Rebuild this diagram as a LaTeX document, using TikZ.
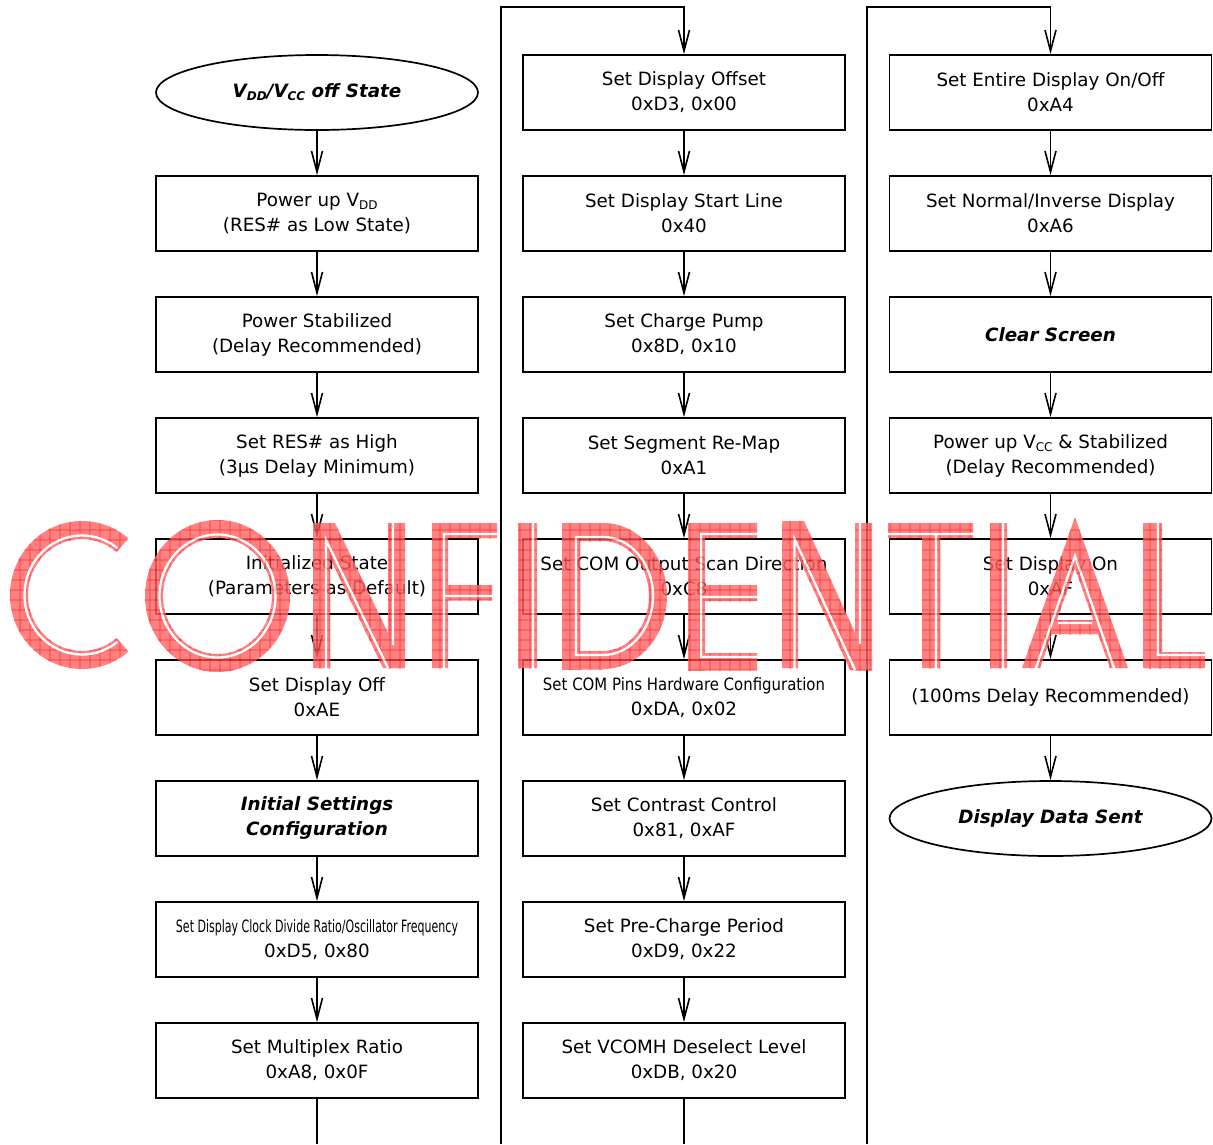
\documentclass[tikz,border=0pt]{standalone}
\usepackage{fontspec}
\usepackage{graphicx}
\setmainfont{DejaVu Sans}[ItalicFont={DejaVu Sans Oblique},BoldFont={DejaVu Sans Bold},BoldItalicFont={DejaVu Sans Bold Oblique}]
\usetikzlibrary{shapes.geometric,arrows.meta,patterns.meta,calc}
\newcommand\fsz{\fontsize{18.3}{25}\selectfont}
\newcommand\sub[1]{\raisebox{-3pt}{\fontsize{12}{12}\selectfont #1}}
\newcommand\cond[1]{\resizebox{282pt}{\height}{\fontsize{17}{17}\selectfont #1}}
\begin{document}
\begin{tikzpicture}[x=1pt,y=-1pt,
  box/.style={draw, line width=1.7pt, minimum width=322pt, minimum height=75pt, inner sep=0pt, align=center, font=\fsz},
  oval/.style={ellipse, draw, line width=1.7pt, minimum width=322pt, minimum height=75pt, inner sep=0pt, align=center, font=\fsz\bfseries\itshape},
  bi/.style={font=\fsz\bfseries\itshape},
  conn/.style={line width=1.7pt},
  arr/.style={conn, -{Straight Barb[length=21pt,width=11pt,line width=1.6pt]}},
  wm/.style={fill=red!60,
    postaction={pattern={Lines[distance=10pt,angle=0,line width=0.8pt]}, pattern color=red},
    postaction={pattern={Lines[distance=10pt,angle=90,line width=0.8pt]}, pattern color=red}},
  inl/.style={draw=white, line width=2.3pt}]
\fill[white] (0,0) rectangle (1213,1144);
\useasboundingbox (0,0) rectangle (1213,1144);

% column 1
\node[oval] (a1) at (317,92.5) {V\sub{DD}/V\sub{CC} off State};
\node[box] (a2) at (317,213.5) {Power up V\sub{DD}\\(RES\# as Low State)};
\node[box] (a3) at (317,334.5) {Power Stabilized\\(Delay Recommended)};
\node[box] (a4) at (317,455.5) {Set RES\# as High\\(3µs Delay Minimum)};
\node[box] (a5) at (317,576.5) {Initialized State\\(Parameters as Default)};
\node[box] (a6) at (317,697.5) {Set Display Off\\0xAE};
\node[box,bi] (a7) at (317,818.5) {Initial Settings\\Configuration};
\node[box] (a8) at (317,939.5) {\cond{Set Display Clock Divide Ratio/Oscillator Frequency}\\0xD5, 0x80};
\node[box] (a9) at (317,1060.5) {Set Multiplex Ratio\\0xA8, 0x0F};

% column 2
\node[box] (b1) at (684,92.5) {Set Display Offset\\0xD3, 0x00};
\node[box] (b2) at (684,213.5) {Set Display Start Line\\0x40};
\node[box] (b3) at (684,334.5) {Set Charge Pump\\0x8D, 0x10};
\node[box] (b4) at (684,455.5) {Set Segment Re-Map\\0xA1};
\node[box] (b5) at (684,576.5) {Set COM Output Scan Direction\\0xC8};
\node[box] (b6) at (684,697.5) {\cond{Set COM Pins Hardware Configuration}\\0xDA, 0x02};
\node[box] (b7) at (684,818.5) {Set Contrast Control\\0x81, 0xAF};
\node[box] (b8) at (684,939.5) {Set Pre-Charge Period\\0xD9, 0x22};
\node[box] (b9) at (684,1060.5) {Set VCOMH Deselect Level\\0xDB, 0x20};

% column 3
\node[box] (c1) at (1050.5,92.5) {Set Entire Display On/Off\\0xA4};
\node[box] (c2) at (1050.5,213.5) {Set Normal/Inverse Display\\0xA6};
\node[box,bi] (c3) at (1050.5,334.5) {Clear Screen};
\node[box] (c4) at (1050.5,455.5) {Power up V\sub{CC} \& Stabilized\\(Delay Recommended)};
\node[box] (c5) at (1050.5,576.5) {Set Display On\\0xAF};
\node[box] (c6) at (1050.5,697.5) {(100ms Delay Recommended)};
\node[oval] (c7) at (1050.5,818.5) {Display Data Sent};

% connectors
\foreach \p/\q in {a1/a2,a2/a3,a3/a4,a4/a5,a5/a6,a6/a7,a7/a8,a8/a9,
                   b1/b2,b2/b3,b3/b4,b4/b5,b5/b6,b6/b7,b7/b8,b8/b9,
                   c1/c2,c2/c3,c3/c4,c4/c5,c5/c6,c6/c7}
  \draw[arr] (\p) -- (\q);
\coordinate (e1) at (317,1144);
\coordinate (u2) at (501,1144);
\coordinate (t2) at (684,7);
\coordinate (e2) at (684,1144);
\coordinate (u3) at (867,1144);
\coordinate (t3) at (1050.5,7);
\draw[conn] (a9) -- (e1);
\draw[conn] (b9) -- (e2);
\draw[arr] (u2) |- (t2) -- (b1);
\draw[arr] (u3) |- (t3) -- (c1);

% watermark
\begin{scope}[transparency group, opacity=0.82]
  % C
  \fill[wm] (82,595) ++(50:72 and 74) arc[start angle=50,end angle=310,x radius=72,y radius=74]
     -- ($(82,595)+(310:54 and 56)$) arc[start angle=310,end angle=50,x radius=54,y radius=56] -- cycle;
  % O
  \fill[wm] (290,596) arc[start angle=0,end angle=360,x radius=72.5,y radius=76]
     -- (272,596) arc[start angle=360,end angle=0,x radius=54.5,y radius=58] -- cycle;
  % N
  \fill[wm] (313,523) rectangle (330,668);
  \fill[wm] (388,523) rectangle (405,668);
  \fill[wm] (313,523) -- (335,523) -- (405,668) -- (383,668) -- cycle;
  % F
  \fill[wm] (432,523) rectangle (448,668);
  \fill[wm] (432,523) rectangle (497,538);
  \fill[wm] (432,585) rectangle (492,600);
  % I
  \fill[wm] (518,523) rectangle (537,668);
  % D
  \fill[wm] (562,523) rectangle (580,669);
  \fill[wm] (562,523) rectangle (603,541);
  \fill[wm] (562,651) rectangle (603,669);
  \fill[wm] (603,523) arc[start angle=-90,end angle=90,x radius=64,y radius=73]
     -- (603,651) arc[start angle=90,end angle=-90,x radius=46,y radius=55] -- cycle;
  % E
  \fill[wm] (688,523) rectangle (705,670);
  \fill[wm] (688,523) rectangle (757,538);
  \fill[wm] (688,585) rectangle (757,601);
  \fill[wm] (688,653) rectangle (757,670);
  % N
  \fill[wm] (782,523) rectangle (798,668);
  \fill[wm] (855,523) rectangle (872,670);
  \fill[wm] (782,521) -- (804,521) -- (872,670) -- (850,670) -- cycle;
  % T
  \fill[wm] (888,523) rectangle (973,538);
  \fill[wm] (922,523) rectangle (940,668);
  % I
  \fill[wm] (990,523) rectangle (1007,668);
  % A
  \fill[wm] (1075,517) -- (1128,668) -- (1110,668) -- (1075,568) -- (1040,668) -- (1022,668) -- cycle;
  \fill[wm] (1050,620) rectangle (1100,634);
  % L
  \fill[wm] (1143,523) rectangle (1162,668);
  \fill[wm] (1143,652) rectangle (1205,668);
  % inlines
  \draw[inl] (82,595) ++(52:57.5 and 59.5) arc[start angle=52,end angle=308,x radius=57.5,y radius=59.5];
  \draw[inl] (217.5,596) ellipse[x radius=58,y radius=61.5];
  \draw[inl] (326,668) -- (326,540) -- (388,668);
  \draw[inl] (393,523) -- (393,645);
  \draw[inl] (444,668) -- (444,534) -- (497,534);
  \draw[inl] (444,596) -- (492,596);
  \draw[inl] (533,523) -- (533,668);
  \draw[inl] (576,655) -- (576,537) -- (603,537) arc[start angle=-90,end angle=90,x radius=50,y radius=59] -- cycle;
  \draw[inl] (757,534) -- (701,534) -- (701,657) -- (757,657);
  \draw[inl] (701,597) -- (757,597);
  \draw[inl] (794.5,668) -- (794.5,539) -- (855,670);
  \draw[inl] (860,523) -- (860,644);
  \draw[inl] (888,534) -- (973,534);
  \draw[inl] (936,534) -- (936,668);
  \draw[inl] (1003,523) -- (1003,668);
  \draw[inl] (1036,668) -- (1075,556) -- (1114,668);
  \draw[inl] (1058,623) -- (1092,623);
  \draw[inl] (1158,523) -- (1158,655) -- (1205,655);
\end{scope}
\end{tikzpicture}
\end{document}
